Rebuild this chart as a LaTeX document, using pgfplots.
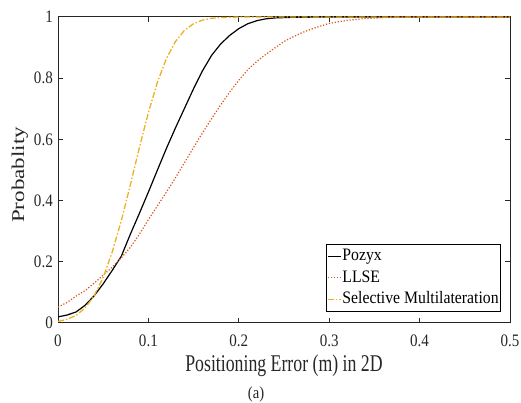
\documentclass[border=0pt]{standalone}
\usepackage{fontspec}
\setmainfont{Liberation Serif}
\newfontfamily\tickfont{Liberation Serif}[FakeStretch=0.86]
\newfontfamily\xlabfont{Liberation Serif}[FakeStretch=0.74]
\newfontfamily\ylabfont{Liberation Serif}[FakeStretch=1.28]
\newfontfamily\legfont{Liberation Serif}[FakeStretch=0.9]
\usepackage{pgfplots}
\pgfplotsset{compat=1.18}
\definecolor{mred}{RGB}{217,83,25}
\definecolor{myel}{RGB}{237,177,32}
\definecolor{axgray}{RGB}{38,38,38}
\begin{document}
\begin{tikzpicture}
\begin{axis}[
  scale only axis,
  width=452pt, height=306pt,
  xmin=0, xmax=0.5, ymin=0, ymax=1,
  xtick={0,0.1,0.2,0.3,0.4,0.5},
  ytick={0,0.2,0.4,0.6,0.8,1},
  /pgf/number format/assume math mode=true,
  axis line style={line width=1pt, draw=axgray},
  major tick length=5pt,
  tick style={line width=1pt, draw=axgray},
  xticklabel style={font=\tickfont\fontsize{17.5}{20}\selectfont, inner sep=0pt, yshift=-12pt, text=axgray},
  yticklabel style={font=\tickfont\fontsize{17.5}{20}\selectfont, inner sep=0pt, xshift=-5pt, text=axgray},
  xlabel={Positioning Error (m) in 2D},
  ylabel={Probablity},
  xlabel style={font=\xlabfont\fontsize{24}{28}\selectfont, at={(axis description cs:0.5,-0.1569)}, anchor=base, inner sep=0pt, text=axgray},
  ylabel style={font=\ylabfont\fontsize{18}{22}\selectfont, at={(axis description cs:-0.0752,0.4837)}, anchor=base, inner sep=0pt, rotate=0, text=axgray},
  legend style={at={(axis description cs:1,0)}, anchor=south east, xshift=-9pt, yshift=11pt,
    draw=black, line width=0.8pt, inner xsep=1pt, inner ysep=1.5pt, row sep=0pt,
    font=\legfont\fontsize{17.5}{20}\selectfont,
    nodes={inner xsep=1pt, inner ysep=2pt, text height=13pt, text depth=4.5pt}},
  legend cell align=left,
  legend image code/.code={\draw[#1] (0pt,0pt) -- (13pt,0pt);},
]
\addplot[black, line width=1.2pt] coordinates {
(0,0.020) (0.01,0.026) (0.02,0.036) (0.03,0.058) (0.04,0.089) (0.05,0.128)
(0.06,0.172) (0.07,0.218) (0.08,0.290) (0.09,0.358) (0.10,0.428) (0.11,0.500)
(0.12,0.571) (0.13,0.638) (0.14,0.702) (0.15,0.766) (0.16,0.825) (0.17,0.875)
(0.18,0.912) (0.19,0.940) (0.20,0.962) (0.21,0.978) (0.22,0.988) (0.23,0.994)
(0.24,0.997) (0.26,0.999) (0.30,1.0) (0.50,1.0)
};
\addlegendentry{Pozyx}
\addplot[mred, line width=1.2pt, dash pattern=on 1.2pt off 1.8pt] coordinates {
(0,0.052) (0.01,0.067) (0.02,0.088) (0.03,0.106) (0.04,0.130) (0.05,0.156)
(0.06,0.183) (0.07,0.213) (0.08,0.247) (0.09,0.290) (0.10,0.338) (0.11,0.383)
(0.12,0.428) (0.13,0.475) (0.14,0.524) (0.15,0.574) (0.16,0.622) (0.17,0.668)
(0.18,0.713) (0.19,0.755) (0.20,0.793) (0.21,0.828) (0.22,0.855) (0.23,0.878)
(0.24,0.899) (0.25,0.920) (0.26,0.935) (0.27,0.949) (0.28,0.960) (0.29,0.970)
(0.30,0.979) (0.32,0.989) (0.34,0.995) (0.36,0.998) (0.40,1.0) (0.50,1.0)
};
\addlegendentry{LLSE}
\addplot[myel, line width=1.3pt, dash pattern=on 6pt off 2pt on 1.5pt off 2pt] coordinates {
(0,0.005) (0.01,0.012) (0.02,0.025) (0.03,0.049) (0.04,0.089) (0.05,0.149)
(0.06,0.232) (0.07,0.334) (0.08,0.451) (0.09,0.573) (0.10,0.688) (0.11,0.787)
(0.12,0.865) (0.13,0.920) (0.14,0.957) (0.15,0.978) (0.16,0.990) (0.17,0.996)
(0.18,0.998) (0.20,1.0) (0.50,1.0)
};
\addlegendentry{Selective Multilateration}
\end{axis}
\node[anchor=base, font=\tickfont\fontsize{17}{20}\selectfont, inner sep=0pt, text=axgray] at ([shift={(198pt,-76pt)}]current axis.south west) {(a)};
\pgfresetboundingbox
\path ([shift={(-58pt,-80pt)}]current axis.south west) rectangle ([shift={(11pt,17pt)}]current axis.north east);
\end{tikzpicture}
\end{document}
